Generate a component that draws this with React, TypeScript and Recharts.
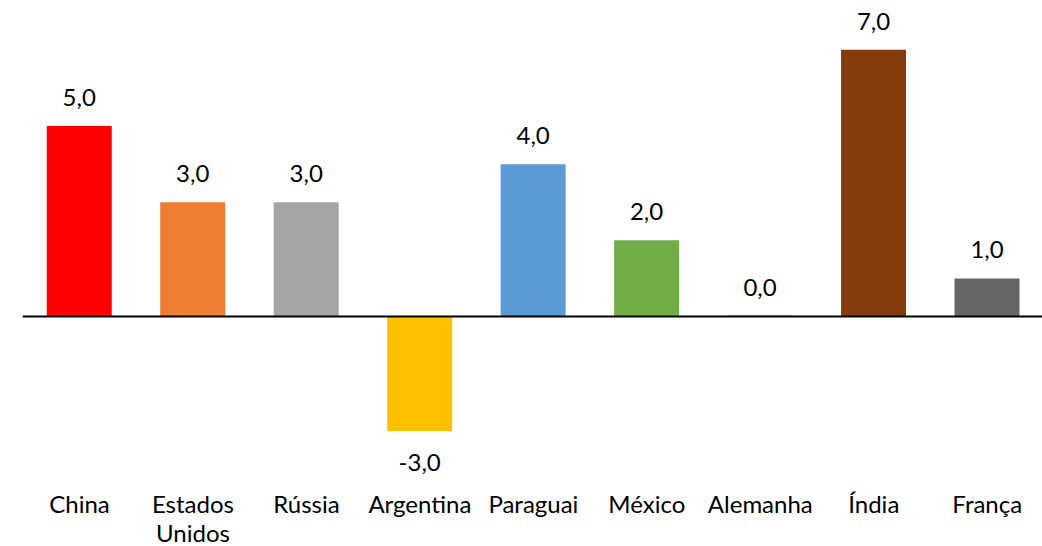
import { BarChart, Bar, XAxis, YAxis, Cell, LabelList, ReferenceLine } from 'recharts';

const countries = ['China', 'Estados Unidos', 'Rússia', 'Argentina', 'Paraguai', 'México', 'Alemanha', 'Índia', 'França'];
const growth = [5, 3, 3, -3, 4, 2, 0, 7, 1];
const barColors = ['#FF0000', '#ED7D31', '#A5A5A5', '#FFC000', '#5B9BD5', '#70AD47', '#4472C4', '#843C0C', '#666666'];

const data = countries.map((name, i) => ({ name, value: growth[i] }));

const FONT = 'Lato, "Noto Sans", sans-serif';

const fmt = (v: number) => v.toFixed(1).replace('.', ',');

// two-line tick for names with a space ("Estados Unidos")
const CountryTick = (props: any) => {
  const { x, y, payload } = props;
  const lines = String(payload.value).split(' ');
  return (
    <text x={x} y={y} textAnchor="middle" fontFamily={FONT} fontSize={24} fill="#000">
      {lines.map((line, i) => (
        <tspan key={i} x={x} dy={i === 0 ? 44 : 29}>{line}</tspan>
      ))}
    </text>
  );
};

// value above positive bars, below negative ones
const ValueLabel = (props: any) => {
  const { x, y, width, height, value } = props;
  const top = Math.min(y, y + height);
  const bottom = Math.max(y, y + height);
  const cx = x + width / 2;
  const ty = value < 0 ? bottom + 40 : top - 20;
  return (
    <text x={cx} y={ty} textAnchor="middle" fontFamily={FONT} fontSize={24} fill="#000">
      {fmt(value)}
    </text>
  );
};

const App = () => {
  return (
    <div style={{ position: 'absolute', left: 0, top: 0, width: 1042, height: 546, overflow: 'hidden', background: '#fff' }}>
      <BarChart
        width={1046}
        height={546}
        data={data}
        margin={{ top: 11.7, right: 2, bottom: 0, left: 22.75 }}
      >
        <XAxis
          dataKey="name"
          axisLine={false}
          tickLine={false}
          tickSize={0}
          tickMargin={0}
          interval={0}
          height={77}
          tick={<CountryTick />}
        />
        <YAxis hide domain={[-4, 8]} />
        <Bar dataKey="value" barSize={65} minPointSize={1} isAnimationActive={false}>
          {data.map((d, i) => (
            <Cell key={d.name} fill={barColors[i]} />
          ))}
          <LabelList dataKey="value" content={<ValueLabel />} />
        </Bar>
        <ReferenceLine y={0} stroke="#000" strokeWidth={2} />
      </BarChart>
    </div>
  );
};

export default App;
